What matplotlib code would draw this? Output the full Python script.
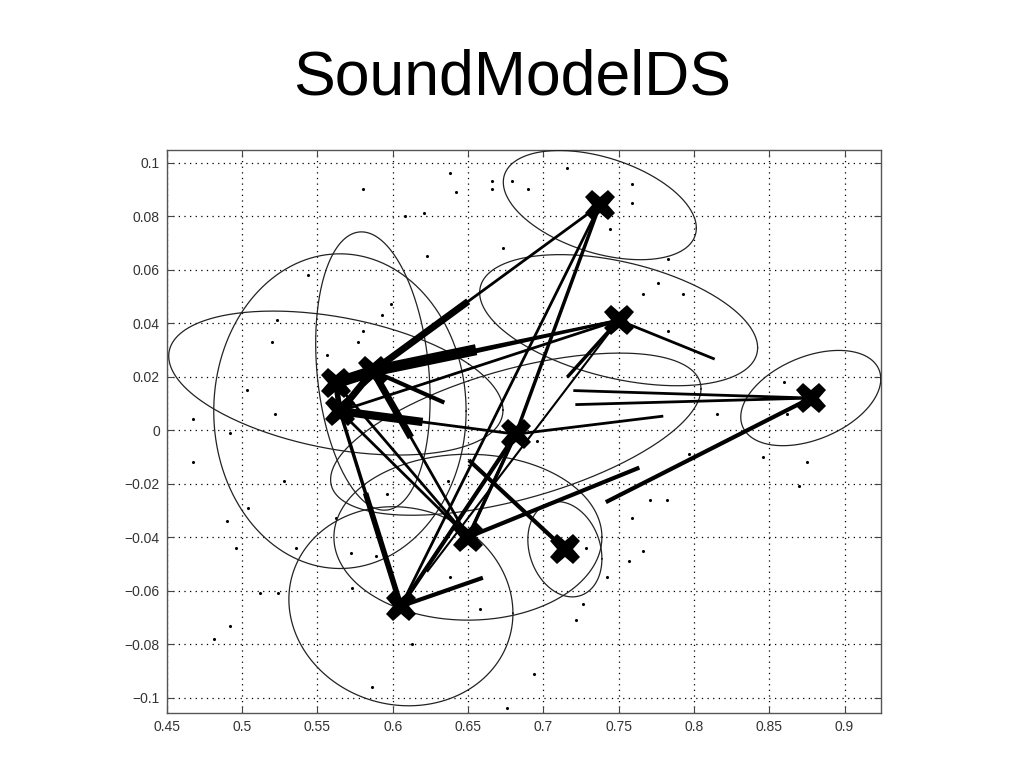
import numpy as np
import matplotlib
matplotlib.use("Agg")
import matplotlib.pyplot as plt

plt.rcParams['font.family'] = ['Liberation Sans', 'DejaVu Sans']

# --- state centres ---
cx = [0.7375, 0.7500, 0.8776, 0.5868, 0.5622, 0.5649, 0.6817, 0.6499, 0.7143, 0.6054]
cy = [0.0841, 0.0411, 0.0120, 0.0221, 0.0176, 0.0071, -0.0015, -0.0400, -0.0445, -0.0658]

# --- ellipse half extents in x / y and tilt (correlation) ---
rx = [0.0641, 0.0923, 0.0465, 0.0380, 0.1110, 0.0838, 0.1230, 0.0890, 0.0246, 0.0744]
ry = [0.0204, 0.0245, 0.0178, 0.0520, 0.0269, 0.0588, 0.0303, 0.0310, 0.0178, 0.0372]
rho = [-0.42, -0.42, 0.40, -0.20, -0.375, 0.0, 0.56, 0.0, -0.20, -0.07]

# --- transitions: from state, to state, fraction of the way drawn, line width ---
tr_from = [3, 0, 3, 1, 3, 3, 7, 4, 5, 4, 5, 5, 5, 4, 5, 4,
           9, 9, 9, 9, 9, 2, 2, 1, 1, 1, 6, 7, 2, 8, 0, 0, 7, 6]
tr_to = [0, 3, 1, 3, 6, 7, 3, 3, 3, 5, 6, 6, 1, 1, 7, 7,
         5, 5, 6, 6, 8, 4, 5, 2, 6, 9, 2, 2, 9, 3, 9, 6, 6, 7]
tr_frac = [0.42, 1.0, 0.42, 1.0, 0.5, 0.4, 1.0, 1.0, 1.0, 1.0, 0.47, 1.0, 1.0, 1.0, 1.0, 1.0,
           0.58, 1.0, 1.0, 1.0, 0.5, 0.5, 0.5, 0.5, 0.5, 0.88, 0.5, 0.5, 0.5, 0.5, 1.0, 1.0, 1.0, 1.0]
tr_lw = [5, 2, 8, 2, 3, 5, 2, 8, 5, 4, 6, 2, 2, 2, 2, 2,
         4, 2.5, 3, 2, 3, 2, 2, 2, 2.5, 1.5, 2, 3, 3, 3, 2, 2.5, 2.5, 2]

# --- scattered observation dots ---
dot_x = [0.638, 0.642, 0.666, 0.666, 0.679, 0.690, 0.580, 0.608, 0.621, 0.623, 0.673, 0.544,
         0.599, 0.593, 0.580, 0.577, 0.556, 0.520, 0.523, 0.503, 0.467, 0.492, 0.522, 0.696,
         0.716, 0.759, 0.759, 0.783, 0.776, 0.793, 0.766, 0.783, 0.860, 0.815, 0.862, 0.744,
         0.467, 0.528, 0.504, 0.490, 0.496, 0.512, 0.524, 0.536, 0.481, 0.492, 0.562, 0.572,
         0.596, 0.589, 0.637, 0.638, 0.586, 0.676, 0.613, 0.573, 0.658,
         0.797, 0.771, 0.782, 0.759, 0.766, 0.757, 0.742, 0.728, 0.726, 0.722, 0.870, 0.875,
         0.846, 0.694]
dot_y = [0.096, 0.089, 0.093, 0.090, 0.093, 0.090, 0.090, 0.080, 0.081, 0.065, 0.068, 0.058,
         0.047, 0.043, 0.037, 0.033, 0.028, 0.033, 0.041, 0.015, 0.004, -0.001, 0.006, -0.004,
         0.098, 0.092, 0.085, 0.064, 0.055, 0.051, 0.051, 0.037, 0.018, 0.006, 0.006, 0.075,
         -0.012, -0.019, -0.029, -0.034, -0.044, -0.061, -0.061, -0.044, -0.078, -0.073, -0.033, -0.046,
         -0.024, -0.047, -0.019, -0.055, -0.096, -0.104, -0.080, -0.059, -0.067,
         -0.009, -0.026, -0.026, -0.033, -0.045, -0.049, -0.055, -0.044, -0.065, -0.071, -0.021, -0.012,
         -0.010, -0.091]

xticks = [0.45, 0.5, 0.55, 0.6, 0.65, 0.7, 0.75, 0.8, 0.85, 0.9]
xtick_labels = ["0.45", "0.5", "0.55", "0.6", "0.65", "0.7", "0.75", "0.8", "0.85", "0.9"]
yticks = [-0.1, -0.08, -0.06, -0.04, -0.02, 0, 0.02, 0.04, 0.06, 0.08, 0.1]
ytick_labels = ["\u22120.1", "\u22120.08", "\u22120.06", "\u22120.04", "\u22120.02", "0",
                "0.02", "0.04", "0.06", "0.08", "0.1"]

fig = plt.figure(figsize=(10.24, 7.68), dpi=100)
ax = fig.add_axes([0.163, 0.0716, 0.697, 0.7331])

# grid, matlab style dotted
ax.set_axisbelow(True)
ax.grid(True, color="black", linestyle=(0, (1, 3.5)), linewidth=0.9)

# dots
ax.scatter(dot_x, dot_y, s=5, color="black", linewidths=0, zorder=2)

# ellipses
t = np.linspace(0, 2 * np.pi, 300)
for i in range(len(cx)):
    ex = cx[i] + rx[i] * np.cos(t)
    ey = cy[i] + ry[i] * (rho[i] * np.cos(t) + np.sqrt(1 - rho[i] ** 2) * np.sin(t))
    ax.plot(ex, ey, color="#222222", linewidth=0.9, zorder=3)

# transition lines
for a, b, f, w in zip(tr_from, tr_to, tr_frac, tr_lw):
    x0, y0 = cx[a], cy[a]
    x1 = x0 + f * (cx[b] - x0)
    y1 = y0 + f * (cy[b] - y0)
    ax.plot([x0, x1], [y0, y1], color="black", linewidth=w,
            solid_capstyle="butt", zorder=4)

# centres
ax.plot(cx, cy, linestyle="none", marker="X", markersize=22,
        color="black", markeredgewidth=0, zorder=5)

ax.set_xlim(0.45, 0.924)
ax.set_ylim(-0.1057, 0.1047)
ax.set_xticks(xticks)
ax.set_xticklabels(xtick_labels)
ax.set_yticks(yticks)
ax.set_yticklabels(ytick_labels)
ax.tick_params(direction="in", length=5, width=0.8, top=True, right=True,
               labelsize=10, labelcolor="#333333", color="#444444", pad=5)
for s in ax.spines.values():
    s.set_color("#555555")
    s.set_linewidth(1.0)

fig.text(0.5, 0.898, "SoundModelDS", ha="center", va="center", fontsize=45, color="black")

fig.savefig("out.png", dpi=100, facecolor="white")
